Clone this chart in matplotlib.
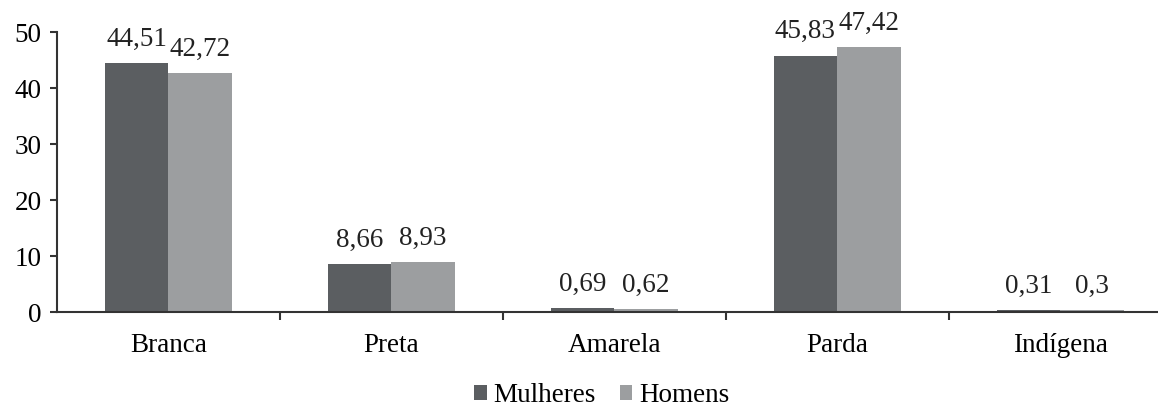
import numpy as np
import matplotlib.pyplot as plt

plt.rcParams['font.family'] = ['Liberation Serif', 'DejaVu Serif']

# participação por cor/raça (%)
categorias = ["Branca", "Preta", "Amarela", "Parda", "Indígena"]
mulheres = [44.51, 8.66, 0.69, 45.83, 0.31]
homens = [42.72, 8.93, 0.62, 47.42, 0.30]
rotulos_m = ["44,51", "8,66", "0,69", "45,83", "0,31"]
rotulos_h = ["42,72", "8,93", "0,62", "47,42", "0,3"]

fig = plt.figure(figsize=(11.58, 4.07), dpi=100)
ax = fig.add_axes([0.049, 0.233, 0.955, 0.688])

x = np.arange(len(categorias))
w = 0.285
bm = ax.bar(x - w/2, mulheres, width=w, color="#5b5e61", label="Mulheres")
bh = ax.bar(x + w/2, homens, width=w, color="#9c9ea0", label="Homens")
ax.bar_label(bm, labels=rotulos_m, padding=8, fontsize=19.5, color="#222222")
ax.bar_label(bh, labels=rotulos_h, padding=8, fontsize=19.5, color="#222222")

ax.set_ylim(0, 50)
ax.set_xlim(-0.5, 4.46)
ax.set_yticks(range(0, 51, 10))
ax.set_xticks(x)
ax.set_xticklabels(categorias)
ax.set_xticks(np.arange(0.5, 4.5, 1), minor=True)
ax.tick_params(axis='x', which='major', length=0, pad=15, labelsize=19.5)
ax.tick_params(axis='x', which='minor', length=6, width=1.5, color="#333333")
ax.tick_params(axis='y', length=5, width=1.5, color="#333333", labelsize=19.5, pad=6)

for s in ["top", "right"]:
    ax.spines[s].set_visible(False)
for s in ["left", "bottom"]:
    ax.spines[s].set_linewidth(1.5)
    ax.spines[s].set_color("#333333")

ax.legend(loc='upper center', bbox_to_anchor=(0.493, -0.205), ncol=2, frameon=False,
          fontsize=19.5, handlelength=0.45, handleheight=0.45, handletextpad=0.25,
          columnspacing=0.9, borderpad=0)

fig.savefig("out.png", dpi=100)
